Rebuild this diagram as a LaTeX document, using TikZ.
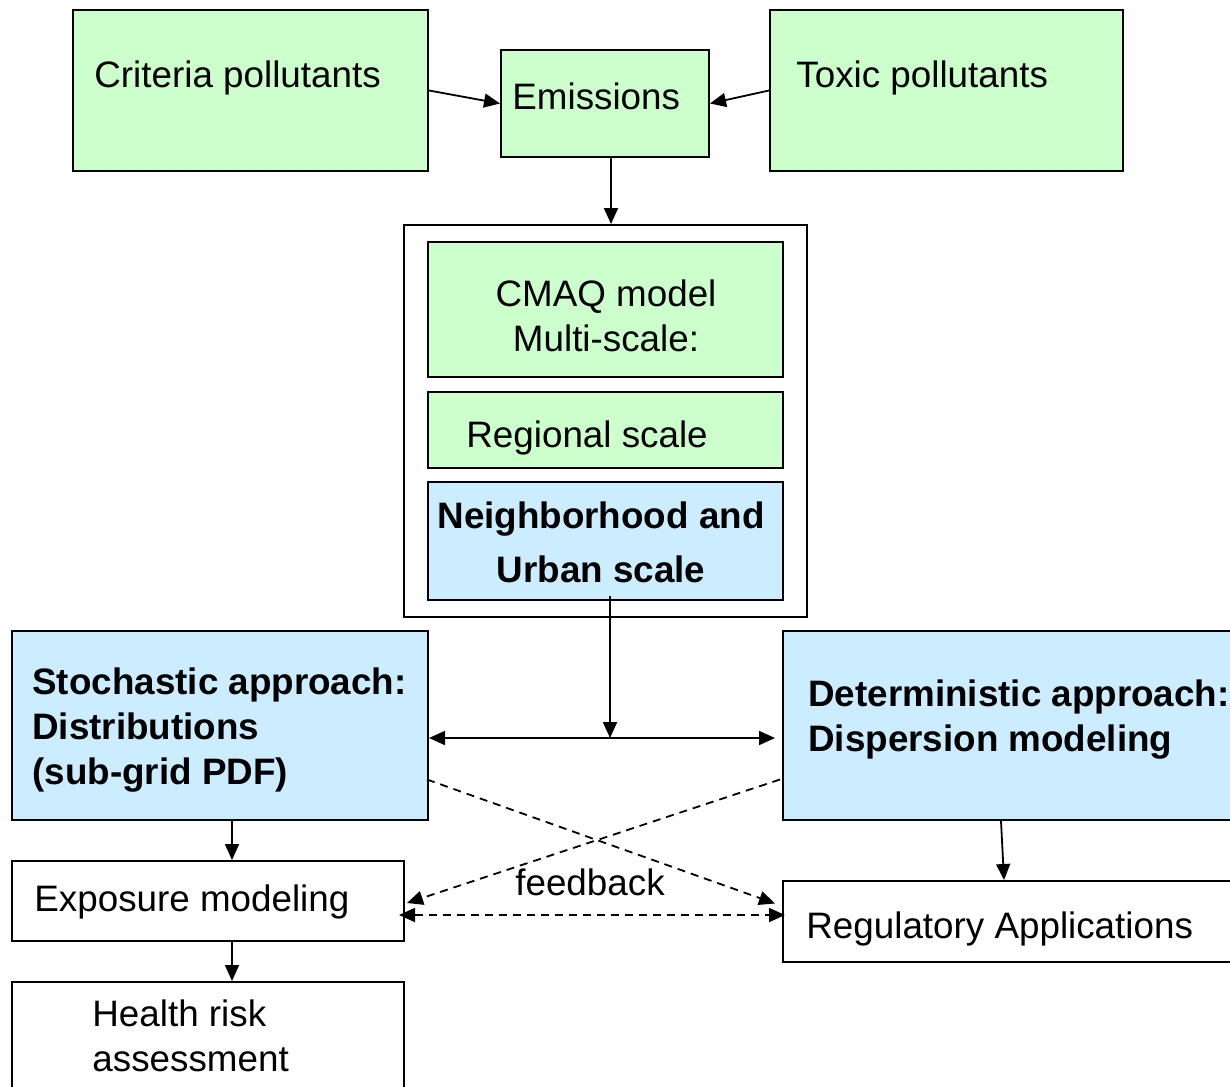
\documentclass[tikz,border=0pt]{standalone}
\usepackage{fontspec}
\setmainfont{Liberation Sans}
\usetikzlibrary{arrows.meta, positioning}
\definecolor{pmGreen}{HTML}{CCFFCC}
\definecolor{pmBlue}{HTML}{CCECFF}
\tikzset{
  pmnode/.style={draw, line width=1pt, anchor=north west, inner sep=0pt},
  greenbox/.style={pmnode, fill=pmGreen},
  bluebox/.style={pmnode, fill=pmBlue},
  plainbox/.style={pmnode, fill=white},
  txt/.style={font=\fontsize{18.4}{22.5}\selectfont, anchor=base west, inner sep=0pt, align=left},
  boldtxt/.style={txt, font=\fontsize{18.4}{22.5}\selectfont\bfseries},
  ctrtxt/.style={txt, anchor=base, align=center},
  flow/.style={-{Triangle[length=8pt, width=7pt]}, line width=0.9pt},
  flowboth/.style={{Triangle[length=8pt, width=7pt]}-{Triangle[length=8pt, width=7pt]}, line width=0.9pt},
  fbflow/.style={flow, dash pattern=on 4pt off 3pt},
  fbboth/.style={flowboth, dash pattern=on 4pt off 3pt}
}
\begin{document}
\begin{tikzpicture}[x=0.5pt, y=-0.5pt]
  \useasboundingbox (0,0) rectangle (1230,1086);
  \clip (0,0) rectangle (1230,1086);

  % sources
  \node[greenbox, minimum width=177.5pt, minimum height=80.5pt] (crit) at (72,9) {};
  \node[greenbox, minimum width=104pt, minimum height=53.5pt] (emis) at (500,49) {};
  \node[greenbox, minimum width=176.5pt, minimum height=80.5pt] (tox) at (769,9) {};
  \node[txt] (critT) at (94,88) {Criteria pollutants};
  \node[txt] (emisT) at (512,110) {Emissions};
  \node[txt] (toxT) at (796,88) {Toxic pollutants};

  % CMAQ block (multi-line texts are placed by their last baseline)
  \node[plainbox, minimum width=201.5pt, minimum height=196pt] (frame) at (403,224) {};
  \node[greenbox, minimum width=177.5pt, minimum height=67.5pt] (cmaq) at (427,241) {};
  \node[greenbox, minimum width=177.5pt, minimum height=38pt] (reg) at (427,391) {};
  \node[bluebox, minimum width=177.5pt, minimum height=59pt] (nbh) at (427,481) {};
  \node[ctrtxt] (cmaqT) at (606,351) {CMAQ model\\Multi-scale:};
  \node[txt] (regT) at (466,447) {Regional scale};
  \node[ctrtxt, font=\fontsize{18.4}{27}\selectfont\bfseries] (nbhT) at (601,582) {Neighborhood and\\Urban scale};

  % approaches
  \node[bluebox, minimum width=208pt, minimum height=94.5pt] (stoch) at (11,630) {};
  \node[bluebox, minimum width=234pt, minimum height=94.5pt] (det) at (782,630) {};
  \node[boldtxt] (stochT) at (32,784) {Stochastic approach:\\Distributions\\(sub-grid PDF)};
  \node[boldtxt] (detT) at (808,751) {Deterministic approach:\\Dispersion modeling};

  % applications
  \node[plainbox, minimum width=196pt, minimum height=40pt] (expo) at (11,860) {};
  \node[plainbox, minimum width=196pt, minimum height=59.5pt] (health) at (11,981) {};
  \node[plainbox, minimum width=234pt, minimum height=40.5pt] (regu) at (782,880) {};
  \node[txt] (expoT) at (34,911) {Exposure modeling};
  \node[txt] (healthT) at (92,1071) {Health risk\\assessment};
  \node[txt] (reguT) at (806,938) {Regulatory Applications};
  \node[ctrtxt] (fb) at (590,895) {feedback};

  % connectors
  \coordinate (hub) at (610,738);
  \draw[flow] (crit.east) -- (emis.west);
  \draw[flow] (tox.west) -- (emis.east);
  \draw[flow] ([xshift=3pt]emis.south) -- ([xshift=3pt]emis.south |- frame.north);
  \draw[flow] ([yshift=2.5pt]nbh.south -| hub) -- (hub);
  \draw[flowboth] (stoch.east |- hub) -- ([xshift=-3.5pt]det.west |- hub);
  \draw[flow] ([xshift=6pt]stoch.south) -- ([xshift=12pt]expo.north);
  \draw[flow] ([xshift=12pt]expo.south) -- ([xshift=12pt]health.north);
  \draw[flow] ([xshift=-8pt]det.south) -- ([xshift=-6.5pt]regu.north);
  \draw[fbflow] ([shift={(-2,54)}]stoch.east) -- ([shift={(-7,-18)}]regu.west);
  \draw[fbflow] ([shift={(-2,54)}]det.west) -- ([shift={(2,2)}]expo.east);
  \draw[fbboth] ([shift={(-6,14)}]expo.east) -- ([shift={(3,-6.5)}]regu.west);
\end{tikzpicture}
\end{document}
